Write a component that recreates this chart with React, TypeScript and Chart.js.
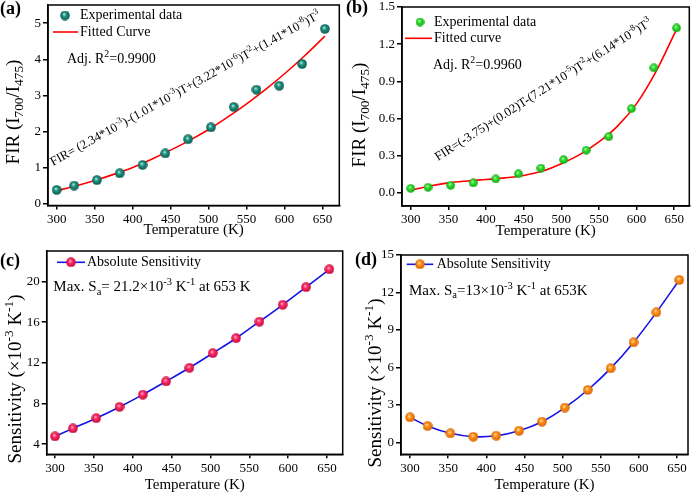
import React, { useEffect, useRef } from "react";
import { Chart, registerables } from "chart.js";

Chart.register(...registerables);

// ---------------- data ----------------
const temperatures = [300, 323, 353, 383, 413, 443, 473, 503, 533, 563, 593, 623, 653];
const firExperimentalA = [0.39, 0.51, 0.66, 0.85, 1.08, 1.4, 1.79, 2.12, 2.68, 3.16, 3.27, 3.87, 4.84];
const fitTemperatures = [300, 325, 350, 375, 400, 425, 450, 475, 500, 525, 550, 575, 600, 625, 653];
const firFittedA = [0.37, 0.5, 0.65, 0.82, 1.01, 1.24, 1.49, 1.76, 2.06, 2.4, 2.77, 3.17, 3.6, 4.07, 4.64];
const firExperimentalB = [0.035, 0.044, 0.06, 0.079, 0.112, 0.153, 0.199, 0.267, 0.344, 0.453, 0.679, 1.009, 1.331];
const firFittedB = [0.02, 0.055, 0.08, 0.095, 0.107, 0.12, 0.14, 0.175, 0.235, 0.31, 0.41, 0.54, 0.72, 0.97, 1.32];
const sensitivityC = [4.76, 5.55, 6.55, 7.66, 8.87, 10.17, 11.51, 12.95, 14.42, 16.05, 17.71, 19.44, 21.2];
const sensitivityD = [2.0, 1.31, 0.72, 0.45, 0.53, 0.93, 1.65, 2.78, 4.19, 5.92, 8.0, 10.41, 13.0];

const xTickValues = [300, 350, 400, 450, 500, 550, 600, 650];
const yTicksA = [0, 1, 2, 3, 4, 5];
const yTicksB = [0, 0.3, 0.6, 0.9, 1.2, 1.5];
const yTicksC = [4, 8, 12, 16, 20];
const yTicksD = [0, 3, 6, 9, 12, 15];

// ---------------- layout constants ----------------
const SERIF = '"Liberation Serif", "Times New Roman", Times, serif';
const OFF = 40;
const PAGE_W = 697;
const PAGE_H = 494;
const CW = PAGE_W + 2 * OFF;
const CH = PAGE_H + 2 * OFF;
const Y_AXIS_W = 40;
const X_AXIS_H = 44;
const DEG = Math.PI / 180;

type Seg = [string, number]; // 0 normal, 1 superscript, -1 subscript

function drawRich(ctx: any, segs: Seg[], x: number, y: number, size: number, angle: number, align: string, bold = false) {
  ctx.save();
  ctx.translate(x, y);
  ctx.rotate(angle);
  ctx.textBaseline = "alphabetic";
  ctx.textAlign = "left";
  ctx.fillStyle = "#000";
  const fontFor = (k: number) => `${bold ? "bold " : ""}${k === 0 ? size : size * 0.7}px ${SERIF}`;
  const widths = segs.map(([t, k]) => {
    ctx.font = fontFor(k);
    return ctx.measureText(t).width;
  });
  const total = widths.reduce((s, w) => s + w, 0);
  let cx = align === "center" ? -total / 2 : 0;
  segs.forEach(([t, k], i) => {
    ctx.font = fontFor(k);
    const dy = k === 1 ? -size * 0.4 : k === -1 ? size * 0.25 : 0;
    ctx.fillText(t, cx, dy);
    cx += widths[i];
  });
  ctx.restore();
}

function makeSphere(light: string, base: string, dark: string, d: number) {
  const c = document.createElement("canvas");
  c.width = d;
  c.height = d;
  const g = c.getContext("2d") as CanvasRenderingContext2D;
  const r = d / 2;
  const grad = g.createRadialGradient(r * 0.8, r * 0.7, 0, r, r, r);
  grad.addColorStop(0, light);
  grad.addColorStop(0.4, base);
  grad.addColorStop(1, dark);
  g.fillStyle = grad;
  g.beginPath();
  g.arc(r, r, r - 0.2, 0, Math.PI * 2);
  g.fill();
  return c;
}

function pts(xs: number[], ys: number[]) {
  return xs.map((x, i) => ({ x, y: ys[i] }));
}

const yTitleFIR: Seg[] = [["FIR (I", 0], ["700", -1], ["/I", 0], ["475", -1], [")", 0]];
const yTitleSens: Seg[] = [["Sensitivity (×10", 0], ["-3", 1], [" K", 0], ["-1", 1], [")", 0]];

function buildSpecs() {
  const sphereA = makeSphere("#c8fff4", "#1f9483", "#0a5548", 10);
  const sphereB = makeSphere("#d8ffd0", "#2be02b", "#12a012", 9);
  const sphereC = makeSphere("#ffd0dc", "#ff2a64", "#c00a3c", 10);
  const sphereD = makeSphere("#fff0c0", "#ff9018", "#d86000", 10);
  return [
    {
      area: { l: 48, t: 5, r: 339.3, b: 205.5 },
      xMin: 288.6, xMax: 672, yMin: -0.04, yMax: 5.5, yTicks: yTicksA, yFmt: (v: number) => String(v),
      xTitlePad: 10,
      datasets: [
        { label: "Experimental data", data: pts(temperatures, firExperimentalA), showLine: false, pointStyle: sphereA, pointRadius: 5, order: 0 },
        { label: "Fitted Curve", data: pts(fitTemperatures, firFittedA), borderColor: "#ff0000", borderWidth: 1.6, pointRadius: 0, cubicInterpolationMode: "monotone", order: 1 },
      ],
      yTitle: yTitleFIR, yTitlePos: [18.5, 112],
      label: "(a)", labelPos: [0, 14],
      legend: [
        { ds: 0, marker: [65, 15.5], text: "Experimental data", tx: 80, ty: 15.5 },
        { ds: 1, line: [53, 78, 32], text: "Fitted Curve", tx: 80, ty: 32 },
      ],
      notes: [
        { segs: [["Adj. R", 0], ["2", 1], ["=0.9900", 0]] as Seg[], x: 67, y: 63, size: 14, angle: 0 },
        {
          segs: [["FIR= (2.34*10", 0], ["-3", 1], [")-(1.01*10", 0], ["-3", 1], [")T+(3.22*10", 0], ["-6", 1], [")T", 0], ["2", 1], ["+(1.41*10", 0], ["-8", 1], [")T", 0], ["3", 1]] as Seg[],
          x: 53, y: 166, size: 12.6, angle: -29 * DEG,
        },
      ],
    },
    {
      area: { l: 402, t: 7, r: 689.3, b: 206 },
      xMin: 288.4, xMax: 670, yMin: -0.107, yMax: 1.5, yTicks: yTicksB, yFmt: (v: number) => v.toFixed(1),
      xTitlePad: 9.5,
      datasets: [
        { label: "Experimental data", data: pts(temperatures, firExperimentalB), showLine: false, pointStyle: sphereB, pointRadius: 5, order: 0 },
        { label: "Fitted curve", data: pts(fitTemperatures, firFittedB), borderColor: "#ff0000", borderWidth: 1.6, pointRadius: 0, cubicInterpolationMode: "monotone", order: 1 },
      ],
      yTitle: yTitleFIR, yTitlePos: [364.5, 115],
      label: "(b)", labelPos: [346, 12.5],
      legend: [
        { ds: 0, marker: [420, 22], text: "Experimental data", tx: 434, ty: 22 },
        { ds: 1, line: [405, 432, 38.3], text: "Fitted curve", tx: 434, ty: 38.3 },
      ],
      notes: [
        { segs: [["Adj. R", 0], ["2", 1], ["=0.9960", 0]] as Seg[], x: 433, y: 69, size: 14, angle: 0 },
        {
          segs: [["FIR=(-3.75)+(0.02)T-(7.21*10", 0], ["-5", 1], [")T", 0], ["2", 1], ["+(6.14*10", 0], ["-8", 1], [")T", 0], ["3", 1]] as Seg[],
          x: 438, y: 161, size: 12.6, angle: -32.5 * DEG,
        },
      ],
    },
    {
      area: { l: 46.7, t: 251, r: 342.7, b: 454.3 },
      xMin: 289.3, xMax: 670.2, yMin: 3, yMax: 23, yTicks: yTicksC, yFmt: (v: number) => String(v),
      xTitlePad: 4,
      datasets: [
        { label: "Absolute Sensitivity", data: pts(temperatures, sensitivityC), borderColor: "#1414e6", borderWidth: 1.6, pointStyle: sphereC, pointRadius: 5, cubicInterpolationMode: "monotone", order: 0 },
      ],
      yTitle: yTitleSens, yTitlePos: [21, 379],
      label: "(c)", labelPos: [0, 265.5],
      legend: [{ ds: 0, line: [57, 85, 262.3], marker: [71, 262.3], text: "Absolute Sensitivity", tx: 87, ty: 262.8 }],
      notes: [
        { segs: [["Max. S", 0], ["a", -1], ["= 21.2×10", 0], ["-3", 1], [" K", 0], ["-1", 1], [" at 653 K", 0]] as Seg[], x: 53.3, y: 291, size: 15, angle: 0 },
      ],
    },
    {
      area: { l: 401, t: 255, r: 688, b: 454.3 },
      xMin: 288.2, xMax: 664.4, yMin: -0.96, yMax: 15, yTicks: yTicksD, yFmt: (v: number) => String(v),
      xTitlePad: 4,
      datasets: [
        { label: "Absolute Sensitivity", data: pts(temperatures, sensitivityD), borderColor: "#1414e6", borderWidth: 1.6, pointStyle: sphereD, pointRadius: 5, tension: 0.4, order: 0 },
      ],
      yTitle: yTitleSens, yTitlePos: [381, 383],
      label: "(d)", labelPos: [355, 265],
      legend: [{ ds: 0, line: [406.7, 433.3, 264.3], marker: [420, 264.3], text: "Absolute Sensitivity", tx: 436.7, ty: 264.8 }],
      notes: [
        { segs: [["Max. S", 0], ["a", -1], ["=13×10", 0], ["-3", 1], [" K", 0], ["-1", 1], [" at 653K", 0]] as Seg[], x: 409, y: 294.5, size: 15, angle: 0 },
      ],
    },
  ];
}

function decorPlugin(p: any) {
  return {
    id: "decor",
    afterDraw(chart: any) {
      const ctx = chart.ctx;
      const a = chart.chartArea;
      ctx.save();
      ctx.strokeStyle = "#000";
      ctx.lineWidth = 1.5;
      ctx.strokeRect(a.left, a.top, a.right - a.left, a.bottom - a.top);
      ctx.translate(OFF, OFF);
      drawRich(ctx, [[p.label, 0]], p.labelPos[0], p.labelPos[1], 18, 0, "left", true);
      drawRich(ctx, p.yTitle, p.yTitlePos[0], p.yTitlePos[1], 19, -Math.PI / 2, "center");
      for (const it of p.legend) {
        const ds = chart.data.datasets[it.ds];
        if (it.line) {
          ctx.strokeStyle = ds.borderColor;
          ctx.lineWidth = ds.borderWidth;
          ctx.beginPath();
          ctx.moveTo(it.line[0], it.line[2]);
          ctx.lineTo(it.line[1], it.line[2]);
          ctx.stroke();
        }
        if (it.marker) {
          const img = ds.pointStyle;
          ctx.drawImage(img, it.marker[0] - img.width / 2, it.marker[1] - img.height / 2);
        }
        ctx.fillStyle = "#000";
        ctx.font = `14px ${SERIF}`;
        ctx.textBaseline = "middle";
        ctx.textAlign = "left";
        ctx.fillText(it.text, it.tx, it.ty);
      }
      for (const n of p.notes) drawRich(ctx, n.segs, n.x, n.y, n.size, n.angle, "left");
      ctx.restore();
    },
  };
}

function makeConfig(p: any) {
  const ar = p.area;
  const tickFont = { family: SERIF, size: 13 };
  return {
    type: "line",
    data: { datasets: p.datasets },
    options: {
      responsive: false,
      animation: false,
      devicePixelRatio: 1,
      events: [],
      layout: {
        padding: {
          left: ar.l + OFF - Y_AXIS_W,
          top: ar.t + OFF,
          right: PAGE_W + OFF - ar.r,
          bottom: PAGE_H + OFF - ar.b - X_AXIS_H,
        },
      },
      plugins: { legend: { display: false }, tooltip: { enabled: false } },
      scales: {
        x: {
          type: "linear",
          min: p.xMin,
          max: p.xMax,
          afterBuildTicks: (s: any) => {
            s.ticks = xTickValues.map((v) => ({ value: v }));
          },
          afterFit: (s: any) => {
            s.height = X_AXIS_H;
          },
          ticks: { font: tickFont, color: "#000", padding: 2, maxRotation: 0, autoSkip: false },
          grid: { drawOnChartArea: false, drawTicks: true, tickLength: 4, color: "#000", lineWidth: 1.5 },
          border: { display: true, color: "#000", width: 1.5 },
          title: {
            display: true,
            text: "Temperature (K)",
            color: "#000",
            font: { family: SERIF, size: 15 },
            padding: { top: 0, bottom: p.xTitlePad },
          },
        },
        y: {
          type: "linear",
          min: p.yMin,
          max: p.yMax,
          afterBuildTicks: (s: any) => {
            s.ticks = p.yTicks.map((v: number) => ({ value: v }));
          },
          afterFit: (s: any) => {
            s.width = Y_AXIS_W;
          },
          ticks: { font: tickFont, color: "#000", padding: 2, autoSkip: false, callback: (v: number) => p.yFmt(v) },
          grid: { drawOnChartArea: false, drawTicks: true, tickLength: 5, color: "#000", lineWidth: 1.5 },
          border: { display: true, color: "#000", width: 1.5 },
        },
      },
    },
    plugins: [decorPlugin(p)],
  };
}

function PanelChart({ index }: { index: number }) {
  const ref = useRef<HTMLCanvasElement | null>(null);
  useEffect(() => {
    const spec = buildSpecs()[index];
    const chart = new Chart(ref.current as HTMLCanvasElement, makeConfig(spec) as any);
    return () => chart.destroy();
  }, [index]);
  return (
    <canvas
      ref={ref}
      width={CW}
      height={CH}
      style={{ position: "absolute", left: -OFF, top: -OFF, width: CW, height: CH }}
    />
  );
}

export default function App() {
  return (
    <div
      style={{
        position: "fixed",
        left: 0,
        top: 0,
        width: PAGE_W,
        height: PAGE_H,
        overflow: "hidden",
        background: "#fff",
      }}
    >
      {[0, 1, 2, 3].map((i) => (
        <PanelChart key={i} index={i} />
      ))}
    </div>
  );
}
